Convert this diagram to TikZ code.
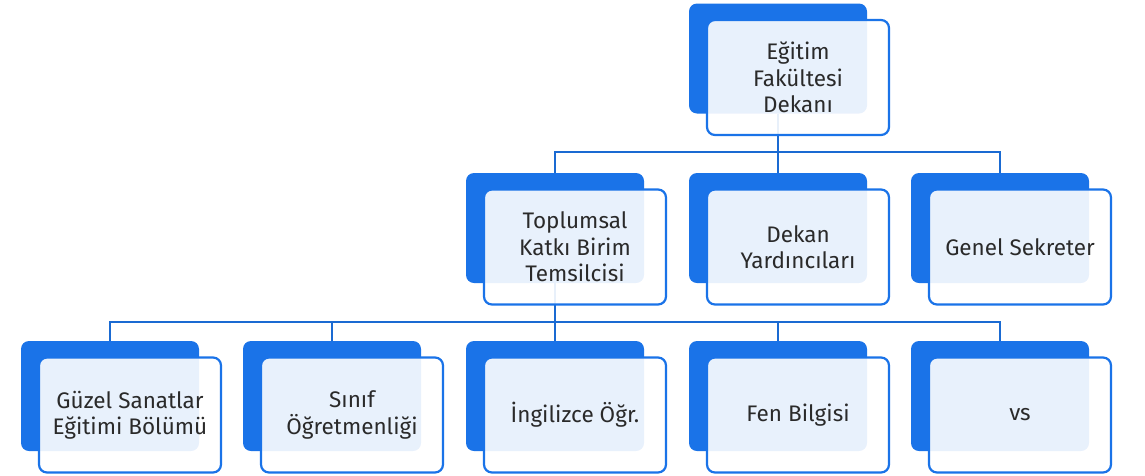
\documentclass[tikz,border=0pt]{standalone}
\usepackage{fontspec}
\setmainfont{Fira Sans}
\usetikzlibrary{positioning}

\definecolor{boxblue}{HTML}{1A73E8}
\definecolor{lineblue}{HTML}{1A6AD2}
\definecolor{txtgray}{HTML}{2A2A2A}

\begin{document}
\begin{tikzpicture}[x=1pt,y=-1pt,on grid,
   backbox/.style={fill=boxblue,rounded corners=8pt,minimum width=178pt,minimum height=110pt,inner sep=0pt},
   frontbox/.style={draw=boxblue,line width=2.2pt,fill=white,fill opacity=0.9,text opacity=1,rounded corners=8pt,
      minimum width=182pt,minimum height=115pt,inner sep=0pt,align=center,text=txtgray,
      font=\fontsize{22.5}{26.5}\selectfont},
   conn/.style={draw=lineblue,line width=2.4pt}]
   \useasboundingbox (0,0) rectangle (1145,475);
   % back boxes
   \node[backbox] (dekanb)  at (778,58.5) {};
   \node[backbox] (toplumb) at (555,228) {};
   \node[backbox] (yardb)   at (778,228) {};
   \node[backbox] (genelb)  at (1000,228) {};
   \node[backbox] (guzelb)  at (110,396) {};
   \node[backbox] (sinifb)  at (332,396) {};
   \node[backbox] (ingb)    at (555,396) {};
   \node[backbox] (fenb)    at (778,396) {};
   \node[backbox] (vsb)     at (1000,396) {};
   % connectors
   \coordinate (bus1) at (0,152);
   \coordinate (bus2) at (0,322);
   \draw[conn] (dekanb.south) -- (dekanb.south |- bus1);
   \draw[conn] (toplumb.north) |- (yardb.north |- bus1) -| (genelb.north);
   \draw[conn] (yardb.north) -- (yardb.north |- bus1);
   \draw[conn] (toplumb.south) -- (toplumb.south |- bus2);
   \draw[conn] (guzelb.north) |- (ingb.north |- bus2) -| (vsb.north);
   \draw[conn] (sinifb.north) -- (sinifb.north |- bus2);
   \draw[conn] (ingb.north) -- (ingb.north |- bus2);
   \draw[conn] (fenb.north) -- (fenb.north |- bus2);
   % front boxes
   \node[frontbox] (dekan)  [below right=19pt and 20pt of dekanb]  {Eğitim\\Fakültesi\\Dekanı};
   \node[frontbox] (toplum) [below right=19pt and 20pt of toplumb] {Toplumsal\\Katkı Birim\\Temsilcisi};
   \node[frontbox] (yard)   [below right=19pt and 20pt of yardb]   {Dekan\\Yardıncıları};
   \node[frontbox] (genel)  [below right=19pt and 20pt of genelb]  {Genel Sekreter};
   \node[frontbox] (guzel)  [below right=19pt and 20pt of guzelb]  {Güzel Sanatlar\\Eğitimi Bölümü};
   \node[frontbox] (sinif)  [below right=19pt and 20pt of sinifb]  {Sınıf\\Öğretmenliği};
   \node[frontbox] (ing)    [below right=19pt and 20pt of ingb]    {İngilizce Öğr.};
   \node[frontbox] (fen)    [below right=19pt and 20pt of fenb]    {Fen Bilgisi};
   \node[frontbox] (vs)     [below right=19pt and 20pt of vsb]     {vs};
\end{tikzpicture}
\end{document}
